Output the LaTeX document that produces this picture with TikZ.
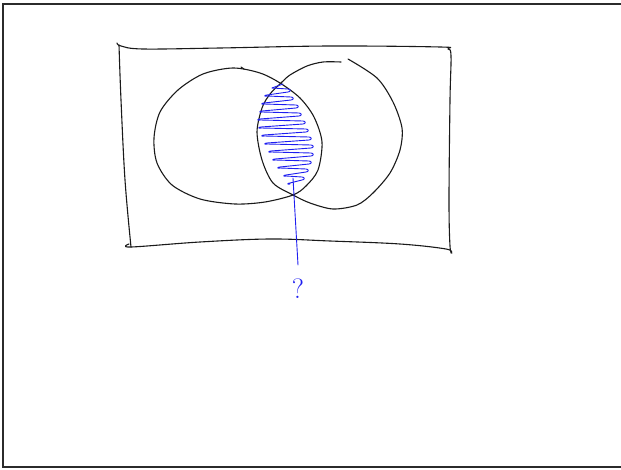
\documentclass[tikz,border=0pt]{standalone}
\usepackage{tikz}
\usetikzlibrary{positioning}
\definecolor{InkBlack}{HTML}{1A1A1A}
\definecolor{InkBlue}{HTML}{1E1EF0}
\definecolor{FrameGray}{HTML}{2B2B2B}

\begin{document}
\begin{tikzpicture}[x=1pt,y=-1pt,
    ink/.style={InkBlack,line width=1.1pt,line cap=round,line join=round},
    hatch/.style={InkBlue,line width=.9pt,line cap=round,line join=round},
    qmark/.style={text=InkBlue,inner sep=0pt,font=\fontsize{28}{28}\selectfont}]
  \useasboundingbox (0,0) rectangle (621,470);
  \draw[FrameGray,line width=2.6pt] (640,4) -- (3,4) -- (3,467) -- (640,467);
  % universe
  \draw[ink] plot[smooth,tension=.6] coordinates {(117,43)(121,46)(143,49)(220,48)(330,46)(440,47)(448,49)(451,56)(450,100)(449,200)(450,246)(452,253)};
  \draw[ink] plot[smooth,tension=.6] coordinates {(119,45)(121,100)(125,180)(131,247)};
  \draw[ink] plot[smooth,tension=.6] coordinates {(129,244)(131,247)(200,242)(270,239)(330,241)(400,244)(446,249)(451,253)};
  % sets
  \draw[ink] plot[smooth cycle] coordinates {(233,68)(260,73)(280,83)(300,98)(314,117)(322,142)(318,170)(306,186)(293,195)(265,202)(235,204)(200,199)(172,185)(157,163)(154,138)(160,112)(178,90)(203,74)};
  \draw[ink] (241,67) -- (244,69);
  \draw[ink] plot[smooth] coordinates {(348,59)(377,78)(393,102)(402,128)(400,150)(390,173)(373,193)(357,205)(333,209)(310,203)(293,195)(273,183)(262,160)(257,132)(262,108)(270,94)(281,83)(290,75)(307,66)(323,62)(341,62)};
  % intersection
  \draw[hatch] (283,84) -- (272,88);
  \foreach \l/\r/\n/\y in {272/288/267/88, 267/291/264/96, 264/296/262/104, 262/299/260/112,
      260/303/261/120, 261/306/264/128, 264/309/267/136, 267/311/271/144,
      271/311/275/152, 275/309/280/160, 280/306/286/168, 286/302/290/176}
    \draw[hatch] (\l,\y) -- (\r,\y+1) .. controls (\r+3,\y+1.2) and (\r+3,\y+3.8) .. (\r,\y+4)
      -- (\n,\y+7) .. controls (\n-3,\y+7.2) and (\n-3,\y+8.8) .. (\n,\y+8);
  \coordinate (lens) at (293,178);
  \coordinate (tail) at (298,265);
  \node[qmark,below=14pt of tail] (q) {?};
  \draw[hatch] (lens) -- (tail);
\end{tikzpicture}
\end{document}
